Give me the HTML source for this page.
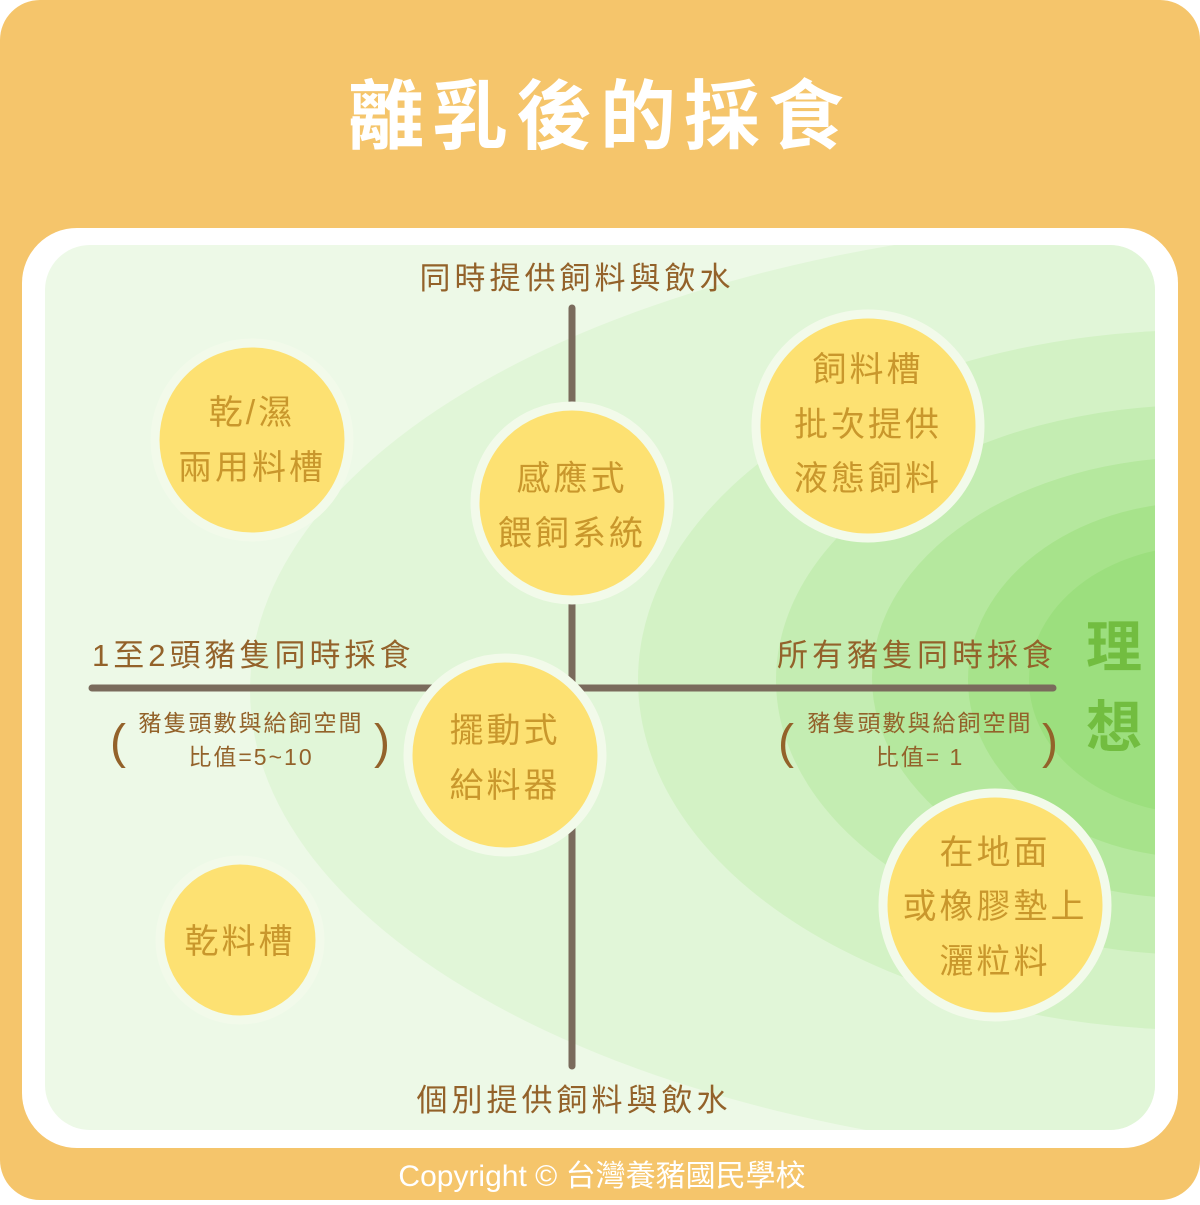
<!DOCTYPE html>
<html><head><meta charset="utf-8"><style>
body{margin:0;width:1200px;height:1200px;overflow:hidden;background:#fff}
svg text{font-family:"Liberation Sans","Noto Sans CJK TC",sans-serif}
</style></head><body>
<svg width="1200" height="1200" viewBox="0 0 1200 1200" xmlns="http://www.w3.org/2000/svg">
<defs><clipPath id="cp"><rect x="45" y="245" width="1110" height="885" rx="45"/></clipPath></defs>
<rect x="0" y="0" width="1200" height="1200" rx="40" fill="#f5c56b"/>
<text x="600" y="143" text-anchor="middle" font-size="76" font-weight="bold" fill="#fff" letter-spacing="8">離乳後的採食</text>
<rect x="22" y="228" width="1156" height="920" rx="55" fill="#fff"/>
<rect x="45" y="245" width="1110" height="885" rx="45" fill="#edf9e7"/>
<g clip-path="url(#cp)">
<ellipse cx="1200" cy="690" rx="950" ry="470" fill="#e1f6d8"/>
<ellipse cx="1200" cy="680" rx="562" ry="350" fill="#d3f2c5"/>
<ellipse cx="1200" cy="680" rx="424" ry="275" fill="#c4edb2"/>
<ellipse cx="1200" cy="678" rx="328" ry="221" fill="#b5e89e"/>
<ellipse cx="1200" cy="680" rx="232" ry="178" fill="#a7e38b"/>
<ellipse cx="1200" cy="680" rx="171" ry="134" fill="#9cdf7e"/>
</g>
<line x1="572" y1="308" x2="572" y2="1066" stroke="#7a6b5c" stroke-width="7" stroke-linecap="round"/>
<line x1="92" y1="688" x2="1053" y2="688" stroke="#7a6b5c" stroke-width="7" stroke-linecap="round"/>
<g fill="#fde172" stroke="#f2faea" stroke-width="9">
<circle cx="252" cy="440" r="97"/>
<circle cx="572" cy="503" r="97"/>
<circle cx="868" cy="426" r="112"/>
<circle cx="505" cy="755" r="97"/>
<circle cx="240" cy="940" r="80"/>
<circle cx="995" cy="905" r="112"/>
</g>
<g fill="#c9972c" font-size="34" text-anchor="middle" letter-spacing="3">
<text x="252" y="424">乾/濕</text><text x="252" y="479">兩用料槽</text>
<text x="572" y="490">感應式</text><text x="572" y="545">餵飼系統</text>
<text x="868" y="381">飼料槽</text><text x="868" y="436">批次提供</text><text x="868" y="490">液態飼料</text>
<text x="505" y="742">擺動式</text><text x="505" y="797">給料器</text>
<text x="240" y="953">乾料槽</text>
<text x="995" y="864">在地面</text><text x="995" y="918">或橡膠墊上</text><text x="995" y="973">灑粒料</text>
</g>
<g fill="#93622a" font-size="31" letter-spacing="4">
<text x="577" y="289" text-anchor="middle">同時提供飼料與飲水</text>
<text x="574" y="1111" text-anchor="middle">個別提供飼料與飲水</text>
<text x="92" y="666">1至2頭豬隻同時採食</text>
<text x="1057" y="666" text-anchor="end">所有豬隻同時採食</text>
</g>
<g fill="#93622a" font-size="23" text-anchor="middle" letter-spacing="2">
<text x="251" y="731">豬隻頭數與給飼空間</text><text x="251" y="765">比值=5~10</text>
<text x="920" y="731">豬隻頭數與給飼空間</text><text x="920" y="765">比值= 1</text>
</g>
<g fill="#93622a" font-size="48" text-anchor="middle">
<text x="118" y="758">(</text>
<text x="382" y="758">)</text>
<text x="786" y="758">(</text>
<text x="1050" y="758">)</text>
</g>
<g fill="#72bd40" font-size="56" font-weight="bold" text-anchor="middle">
<text x="1114" y="667">理</text><text x="1114" y="747">想</text>
</g>
<text x="602" y="1186" text-anchor="middle" font-size="30" fill="#fff">Copyright © 台灣養豬國民學校</text>
</svg>
</body></html>
